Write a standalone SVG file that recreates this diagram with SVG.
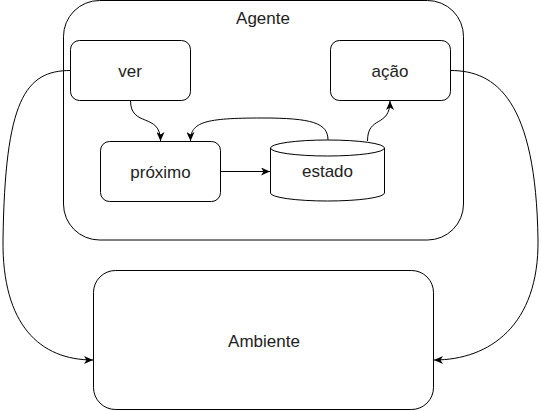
<svg xmlns="http://www.w3.org/2000/svg" width="541" height="411" viewBox="0 0 541 411">
<defs>
<style>
.box{fill:#fff;stroke:#000;stroke-width:1}
.lbl{font-family:"Liberation Sans",Arial,sans-serif;font-size:17px;fill:#222;text-anchor:middle}
.edge{fill:none;stroke:#000;stroke-width:1}
</style>
<marker id="arr" markerUnits="userSpaceOnUse" viewBox="0 0 10 8" refX="9" refY="4" markerWidth="10" markerHeight="8" orient="auto">
<path d="M0,0 L9,4 L0,8 L2.5,4 Z" fill="#000"/>
</marker>
</defs>
<rect width="541" height="411" fill="#fff"/>
<g id="agente">
<rect class="box" x="63.5" y="0.5" width="400" height="239.5" rx="36" ry="36"/>
<text class="lbl" x="263" y="24">Agente</text>
</g>
<g id="ambiente">
<rect class="box" x="93.5" y="270.5" width="340" height="139" rx="22" ry="22"/>
<text class="lbl" x="264" y="347">Ambiente</text>
</g>
<g id="ver">
<rect class="box" x="70.5" y="40.5" width="120" height="60" rx="9" ry="9"/>
<text class="lbl" x="130" y="77">ver</text>
</g>
<g id="proximo">
<rect class="box" x="100.5" y="141.5" width="120" height="60" rx="9" ry="9"/>
<text class="lbl" x="160.5" y="178">próximo</text>
</g>
<g id="acao">
<rect class="box" x="330.5" y="40.5" width="120" height="60" rx="9" ry="9"/>
<text class="lbl" x="390" y="77">ação</text>
</g>
<g id="estado">
<path class="box" d="M270.5,148 A57,8 0 0 1 384.5,148 L384.5,193 A57,8 0 0 1 270.5,193 Z"/>
<path class="edge" d="M270.5,148 A57,8 0 0 0 384.5,148"/>
<text class="lbl" x="327.5" y="177">estado</text>
</g>
<g id="connectors">
<path class="edge" marker-end="url(#arr)" d="M70.5,70.5 C25,70.5 5,100 3,240 C2,325 40,360 93,360"/>
<path class="edge" marker-end="url(#arr)" d="M450.5,70.5 C496,70.5 536,100 538,240 C539,325 490,360 434,360"/>
<path class="edge" marker-end="url(#arr)" d="M130.5,100.5 C130.5,128 160.5,112 160.5,141"/>
<path class="edge" marker-end="url(#arr)" d="M328,140 C328,123 312,118 262,118 C205,118 190.5,122 190.5,141"/>
<path class="edge" marker-end="url(#arr)" d="M220.5,171.5 L270,171.5"/>
<path class="edge" marker-end="url(#arr)" d="M367.5,141 C367.5,115 390,128 390,101"/>
</g>
</svg>
